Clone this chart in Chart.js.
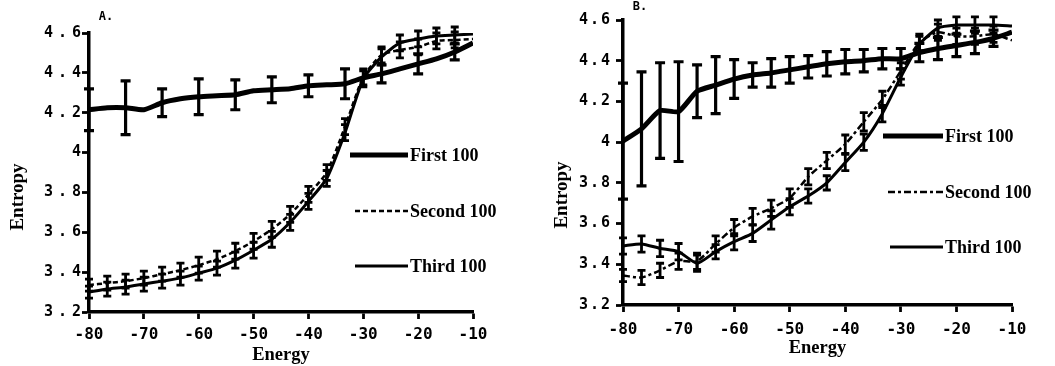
<!DOCTYPE html>
<html>
<head>
<meta charset="utf-8">
<script src="https://cdn.jsdelivr.net/npm/chart.js@4.4.0/dist/chart.umd.min.js"></script>
<style>
  body { margin: 0; background: #fff; }
  .wrap { position: relative; width: 1055px; height: 366px; }
  canvas { position: absolute; top: 0; }
  #chartA { left: 0; }
  #chartB { left: 527px; }
</style>
</head>
<body>
<div class="wrap">
  <canvas id="chartA" width="527" height="366"></canvas>
  <canvas id="chartB" width="528" height="366"></canvas>
</div>
<script>
// ===== data =====
const energy = [-80, -76.67, -73.33, -70, -66.67, -63.33, -60, -56.67, -53.33, -50, -46.67,
                -43.33, -40, -36.67, -33.33, -30, -26.67, -23.33, -20, -16.67, -13.33, -10];
const xTicks = [-80, -70, -60, -50, -40, -30, -20, -10];
const yTicks = [3.2, 3.4, 3.6, 3.8, 4, 4.2, 4.4, 4.6];
const seriesNames = ['First 100', 'Second 100', 'Third 100'];

// panel A
const firstA     = [4.215, 4.225, 4.225, 4.215, 4.25, 4.27, 4.28, 4.285, 4.29, 4.31, 4.315,
                    4.32, 4.335, 4.34, 4.345, 4.375, 4.395, 4.42, 4.445, 4.47, 4.505, 4.55];
const firstAErr  = [0.105, null, 0.135, null, 0.07, null, 0.09, null, 0.075, null, 0.065,
                    null, 0.055, null, 0.075, null, 0.045, null, 0.05, null, 0.04, null];
const secondA    = [3.335, 3.345, 3.355, 3.37, 3.39, 3.41, 3.435, 3.465, 3.505, 3.555, 3.615,
                    3.69, 3.79, 3.90, 4.13, 4.38, 4.49, 4.515, 4.53, 4.56, 4.565, 4.57];
const secondAErr = [0.03, 0.035, 0.035, 0.035, 0.035, 0.035, 0.04, 0.04, 0.04, 0.04, 0.04,
                    0.04, 0.04, 0.04, 0.04, 0.04, 0.04, 0.04, 0.04, 0.04, 0.04, null];
const thirdA     = [3.30, 3.315, 3.325, 3.34, 3.355, 3.37, 3.395, 3.42, 3.46, 3.51, 3.565,
                    3.65, 3.755, 3.87, 4.10, 4.37, 4.48, 4.55, 4.57, 4.585, 4.59, 4.595];
const thirdAErr  = [0.03, 0.035, 0.035, 0.035, 0.035, 0.035, 0.035, 0.035, 0.04, 0.04, 0.04,
                    0.04, 0.04, 0.04, 0.04, 0.04, 0.04, 0.04, 0.04, 0.04, 0.04, null];

// panel B
const firstB     = [4.005, 4.065, 4.155, 4.15, 4.25, 4.28, 4.31, 4.33, 4.34, 4.355, 4.37,
                    4.385, 4.395, 4.40, 4.41, 4.41, 4.44, 4.46, 4.475, 4.49, 4.51, 4.54];
const firstBErr  = [0.285, 0.28, 0.235, 0.245, 0.13, 0.14, 0.095, 0.06, 0.07, 0.065, 0.055,
                    0.06, 0.06, 0.055, 0.05, 0.05, 0.045, 0.055, 0.055, 0.055, 0.04, null];
const secondB    = [3.345, 3.335, 3.37, 3.415, 3.415, 3.50, 3.58, 3.635, 3.675, 3.725, 3.83,
                    3.91, 3.99, 4.10, 4.21, 4.35, 4.49, 4.54, 4.52, 4.52, 4.53, 4.50];
const secondBErr = [0.03, 0.035, 0.035, 0.04, 0.04, 0.04, 0.04, 0.04, 0.04, 0.045, 0.04,
                    0.04, 0.045, 0.045, 0.04, 0.04, 0.04, 0.04, 0.04, 0.04, 0.04, null];
const thirdB     = [3.49, 3.50, 3.478, 3.462, 3.405, 3.462, 3.511, 3.552, 3.618, 3.683, 3.735,
                    3.80, 3.90, 4.00, 4.14, 4.32, 4.48, 4.56, 4.575, 4.575, 4.575, 4.57];
const thirdBErr  = [0.04, 0.04, 0.04, 0.04, 0.04, 0.035, 0.04, 0.04, 0.045, 0.04, 0.035,
                    0.035, 0.04, 0.04, 0.04, 0.04, 0.04, 0.04, 0.04, 0.04, 0.04, null];

// ===== plugins =====
// error bars drawn through the chart's own scales
const errorBars = {
  id: 'errorBars',
  afterDatasetsDraw(chart) {
    const ctx = chart.ctx, xs = chart.scales.x, ys = chart.scales.y;
    chart.data.datasets.forEach((ds, di) => {
      if (!ds.errors) return;
      ctx.save();
      ctx.strokeStyle = '#000';
      ctx.lineWidth = ds.errWidth;
      ctx.setLineDash([]);
      ds.data.forEach((p, i) => {
        const e = ds.errors[i];
        if (e == null) return;
        const x = xs.getPixelForValue(p.x);
        const y1 = ys.getPixelForValue(p.y - e);
        const y2 = ys.getPixelForValue(p.y + e);
        const c = ds.capSize;
        ctx.beginPath();
        ctx.moveTo(x, y1); ctx.lineTo(x, y2);
        ctx.moveTo(x - c, y1); ctx.lineTo(x + c, y1);
        ctx.moveTo(x - c, y2); ctx.lineTo(x + c, y2);
        ctx.stroke();
      });
      ctx.restore();
    });
  }
};

// wide typewriter spacing on the y tick labels only
const spacedTicks = {
  id: 'spacedTicks',
  afterLayout(chart, args, o) {
    const y = chart.scales.y;
    if (y._spaced) return;
    y._spaced = true;
    const base = y.drawLabels.bind(y);
    y.drawLabels = function(area) {
      const ctx = this.ctx;
      ctx.save();
      ctx.letterSpacing = o.spacing + 'px';
      base(area);
      ctx.restore();
    };
  }
};

// in-plot legend, panel letter and y title
const panelText = {
  id: 'panelText',
  afterDraw(chart, args, o) {
    const ctx = chart.ctx;
    ctx.save();
    ctx.fillStyle = '#000';
    ctx.strokeStyle = '#000';
    ctx.textBaseline = 'middle';
    // legend
    ctx.font = 'bold 18px "Liberation Serif"';
    chart.data.datasets.forEach((ds, i) => {
      const y = o.legendY[i];
      ctx.lineWidth = ds.borderWidth;
      ctx.setLineDash(ds.borderDash || []);
      ctx.beginPath();
      ctx.moveTo(o.legendX0[i], y);
      ctx.lineTo(o.legendX1, y);
      ctx.stroke();
      ctx.setLineDash([]);
      ctx.textAlign = 'left';
      ctx.fillText(ds.label, o.legendX1 + 2, y + 1);
    });
    // panel letter
    ctx.font = 'bold 12px "DejaVu Sans Mono"';
    ctx.textAlign = 'center';
    ctx.fillText(o.label, o.labelX, o.labelY);
    // y title
    ctx.font = 'bold 19px "Liberation Serif"';
    ctx.translate(o.yTitleX, o.yTitleY);
    ctx.rotate(-Math.PI / 2);
    ctx.fillText('Entropy', 0, 0);
    ctx.restore();
  }
};

function makePanel(id, vals, errs, lay) {
  const dashes = [[], lay.dash, []];
  const widths = [5, 2.5, 3];
  const caps = [5, 4, 4];
  const datasets = vals.map((v, k) => ({
    label: seriesNames[k],
    data: energy.map((e, i) => ({x: e, y: v[i]})),
    errors: errs[k],
    errWidth: k === 0 ? 3.2 : 2.8,
    capSize: caps[k],
    borderColor: '#000',
    borderWidth: widths[k],
    borderDash: dashes[k],
    pointRadius: 0,
    tension: 0.2,
    fill: false
  }));

  return new Chart(document.getElementById(id), {
    type: 'line',
    data: { datasets: datasets },
    plugins: [errorBars, spacedTicks, panelText],
    options: {
      responsive: false,
      animation: false,
      devicePixelRatio: 1,
      layout: { padding: { top: lay.top, right: lay.right, left: 0, bottom: 0 } },
      plugins: {
        legend: { display: false },
        tooltip: { enabled: false },
        spacedTicks: { spacing: lay.ySpacing },
        panelText: lay.text
      },
      scales: {
        x: {
          type: 'linear',
          min: -80, max: -10,
          afterBuildTicks: s => { s.ticks = xTicks.map(v => ({value: v})); },
          afterFit: s => { s.height = lay.xHeight; },
          grid: { drawOnChartArea: false, tickLength: 7, tickWidth: 2.8, tickColor: '#000' },
          border: { color: '#000', width: 3.5 },
          ticks: {
            color: '#000', padding: lay.xPad, maxRotation: 0,
            font: { family: 'DejaVu Sans Mono', size: 16, weight: 'bold' },
            callback: v => String(v)
          },
          title: {
            display: true, text: 'Energy', color: '#000',
            font: { family: 'Liberation Serif', size: 18.5, weight: 'bold' },
            padding: { top: 0, bottom: lay.titlePad }
          }
        },
        y: {
          min: 3.2, max: 4.6,
          afterBuildTicks: s => { s.ticks = yTicks.map(v => ({value: v})); },
          afterFit: s => { s.width = lay.yWidth; },
          grid: { drawOnChartArea: false, tickLength: 7, tickWidth: 2.8, tickColor: '#000' },
          border: { color: '#000', width: 3.5 },
          ticks: {
            color: '#000', padding: lay.yPad,
            font: { family: 'DejaVu Sans Mono', size: 15, weight: 'bold' },
            callback: v => String(Math.round(v * 10) / 10)
          }
        }
      }
    }
  });
}

makePanel('chartA', [firstA, secondA, thirdA], [firstAErr, secondAErr, thirdAErr], {
  top: 33, right: 54, yWidth: 89, xHeight: 54, titlePad: 0, dash: [5, 3],
  ySpacing: 5, yPad: -4, xPad: 6,
  text: { label: 'A.', labelX: 106, labelY: 17, yTitleX: 18, yTitleY: 197,
          legendX0: [350, 355, 355], legendX1: 408, legendY: [155, 211, 266] }
});

makePanel('chartB', [firstB, secondB, thirdB], [firstBErr, secondBErr, thirdBErr], {
  top: 20, right: 43, yWidth: 96, xHeight: 61, titlePad: 7, dash: [7, 3, 3, 3],
  ySpacing: 2, yPad: 4, xPad: 8,
  text: { label: 'B.', labelX: 113, labelY: 7, yTitleX: 35, yTitleY: 195,
          legendX0: [356, 361, 363], legendX1: 416, legendY: [136, 192, 247] }
});
</script>
</body>
</html>
